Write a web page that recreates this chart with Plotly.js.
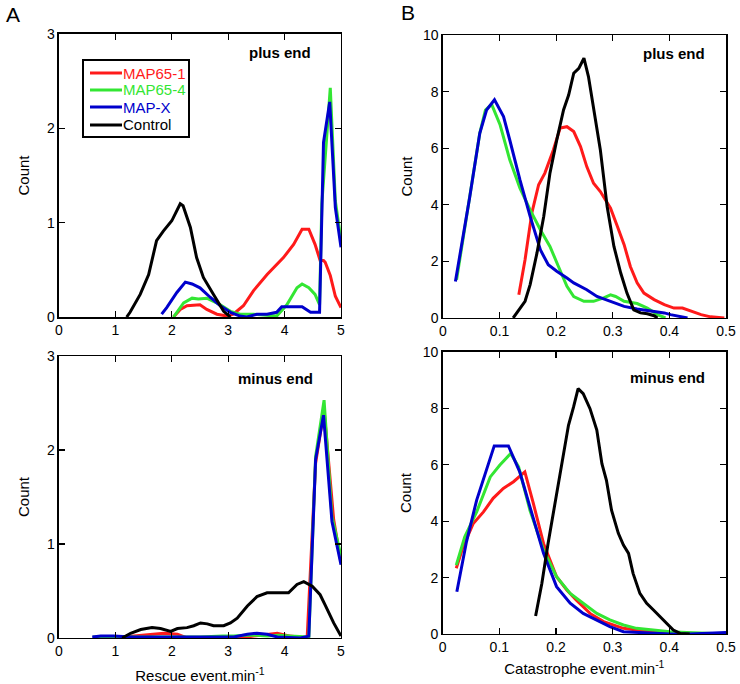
<!DOCTYPE html>
<html>
<head>
<meta charset="utf-8">
<script src="https://cdn.plot.ly/plotly-3.0.1.min.js"></script>
<style>html,body{margin:0;padding:0;background:#fff;}#chart{width:740px;height:684px;}</style>
</head>
<body>
<div id="chart"></div>
<script>
// ---- Data ----
// Panel A, plus end (rescue)
const aPlusRedX   = [2.03,2.15,2.27,2.5,2.62,2.8,2.98,3.09,3.27,3.45,3.69,3.98,4.16,4.31,4.43,4.54,4.63,4.69,4.72,4.81,4.9,5.0];
const aPlusRedY   = [0,0.08,0.12,0.13,0.08,0.03,0.01,0.03,0.12,0.28,0.45,0.63,0.77,0.93,0.93,0.77,0.6,0.6,0.58,0.44,0.22,0.1];
const aPlusGreenX = [2.03,2.21,2.36,2.47,2.62,2.86,3.04,3.21,3.45,3.75,3.86,4.04,4.22,4.31,4.43,4.54,4.62,4.66,4.81,4.9,5.0];
const aPlusGreenY = [0,0.15,0.2,0.19,0.2,0.13,0.06,0.03,0.03,0.01,0.01,0.13,0.31,0.35,0.31,0.24,0.13,1.2,2.43,1.23,0.81];
const aPlusBlueX  = [1.82,1.91,2.09,2.24,2.36,2.5,2.68,2.86,3.04,3.21,3.33,3.51,3.69,3.86,3.95,4.1,4.31,4.46,4.57,4.62,4.69,4.8,4.9,5.0];
const aPlusBlueY  = [0.03,0.1,0.26,0.37,0.35,0.31,0.21,0.12,0.05,0.01,0,0.03,0.03,0.05,0.11,0.11,0.11,0.05,0.05,0.05,1.85,2.28,1.16,0.74];
const aPlusBlackX = [1.2,1.26,1.44,1.59,1.73,1.85,2.0,2.15,2.2,2.33,2.44,2.56,2.74,2.92,3.04];
const aPlusBlackY = [0,0.05,0.24,0.45,0.81,0.91,1.02,1.2,1.18,0.95,0.63,0.42,0.24,0.06,0];

// Panel A, minus end (rescue)
const aMinusRedX   = [0.75,1.03,1.33,1.62,1.86,2.1,2.27,2.6,3.0,3.22,3.45,3.69,3.87,4.1,4.4,4.55,4.7,4.87,5.0];
const aMinusRedY   = [0,0,0.02,0.04,0.05,0.04,0,0,0,0,0.02,0.04,0.05,0.02,0,1.86,2.43,1.26,0.8];
const aMinusGreenX = [0.6,1.0,1.5,2.0,2.5,2.9,3.1,3.3,3.5,3.7,3.9,4.1,4.43,4.55,4.7,4.84,5.0];
const aMinusGreenY = [0.01,0.01,0.01,0.01,0.01,0.02,0.02,0.03,0.03,0.02,0.03,0.02,0.01,1.93,2.53,1.29,0.87];
const aMinusBlueX  = [0.59,0.74,0.97,1.3,1.92,2.5,3.1,3.34,3.51,3.69,3.87,4.28,4.43,4.55,4.69,4.84,5.0];
const aMinusBlueY  = [0.01,0.02,0.02,0.01,0.01,0.01,0.01,0.04,0.05,0.04,0.01,0,0.02,1.9,2.37,1.24,0.78];
const aMinusBlackX = [1.12,1.27,1.45,1.65,1.8,1.98,2.1,2.27,2.39,2.51,2.63,2.74,2.92,3.04,3.16,3.34,3.51,3.69,3.87,4.07,4.22,4.34,4.49,4.63,4.72,4.87,5.0];
const aMinusBlackY = [0,0.05,0.09,0.11,0.1,0.07,0.1,0.11,0.13,0.16,0.15,0.13,0.13,0.16,0.21,0.34,0.44,0.48,0.48,0.48,0.57,0.6,0.55,0.46,0.35,0.16,0.02];

// Panel B, plus end (catastrophe)
const bPlusRedX   = [0.134,0.145,0.157,0.169,0.18,0.195,0.207,0.219,0.231,0.243,0.254,0.266,0.278,0.296,0.308,0.32,0.331,0.343,0.355,0.373,0.391,0.408,0.423,0.438,0.456,0.473,0.497];
const bPlusRedY   = [0.82,2.06,3.71,4.71,5.12,5.94,6.71,6.76,6.59,6.06,5.35,4.76,4.47,3.88,3.24,2.59,1.82,1.24,0.88,0.65,0.47,0.35,0.35,0.24,0.12,0.04,0];
const bPlusGreenX = [0.024,0.036,0.047,0.065,0.075,0.086,0.101,0.118,0.136,0.154,0.172,0.189,0.204,0.219,0.231,0.249,0.266,0.284,0.296,0.305,0.32,0.343,0.361,0.379,0.393];
const bPlusGreenY = [1.35,2.88,4.24,6.53,7.35,7.55,6.82,5.59,4.59,3.82,3.12,2.53,1.82,1.12,0.76,0.59,0.59,0.71,0.82,0.76,0.59,0.51,0.35,0.12,0];
const bPlusBlueX  = [0.022,0.036,0.047,0.065,0.077,0.091,0.107,0.118,0.136,0.154,0.172,0.186,0.201,0.219,0.231,0.254,0.272,0.296,0.32,0.343,0.373,0.391,0.402,0.42,0.432];
const bPlusBlueY  = [1.29,2.88,4.24,6.53,7.35,7.71,7.12,6.29,4.88,3.59,2.41,1.88,1.65,1.41,1.24,1.0,0.76,0.59,0.41,0.32,0.24,0.18,0.12,0.04,0];
const bPlusBlackX = [0.124,0.133,0.145,0.154,0.166,0.178,0.189,0.201,0.213,0.222,0.231,0.24,0.249,0.257,0.266,0.278,0.29,0.302,0.314,0.325,0.337,0.349,0.361,0.373,0.379];
const bPlusBlackY = [0,0.24,0.59,1.18,2.29,3.59,5.12,6.29,7.35,7.88,8.65,8.82,9.18,8.53,7.35,5.94,3.94,2.53,1.59,0.88,0.29,0.18,0.15,0.08,0];

// Panel B, minus end (catastrophe)
const bMinusRedX   = [0.024,0.036,0.054,0.072,0.089,0.107,0.125,0.145,0.16,0.178,0.201,0.219,0.236,0.26,0.284,0.319,0.342,0.372,0.401,0.431,0.46,0.5];
const bMinusRedY   = [2.33,3.09,3.92,4.33,4.81,5.16,5.4,5.75,4.63,3.21,2.03,1.56,1.2,0.73,0.44,0.2,0.14,0.08,0.05,0.02,0,0];
const bMinusGreenX = [0.024,0.039,0.06,0.084,0.101,0.12,0.134,0.154,0.178,0.201,0.225,0.248,0.272,0.295,0.319,0.342,0.372,0.401,0.431,0.46,0.5];
const bMinusGreenY = [2.44,3.45,4.33,5.57,5.99,6.4,5.93,4.39,2.98,2.03,1.44,1.09,0.73,0.5,0.32,0.2,0.14,0.08,0.05,0.02,0];
const bMinusBlueX  = [0.025,0.042,0.06,0.075,0.091,0.116,0.136,0.154,0.178,0.201,0.225,0.248,0.272,0.295,0.319,0.342,0.372,0.401,0.436,0.46,0.5];
const bMinusBlueY  = [1.5,3.27,4.75,5.69,6.67,6.67,5.75,4.51,2.86,1.68,1.09,0.73,0.5,0.26,0.08,0.05,0.02,0,0,0.02,0.05];
const bMinusBlackX = [0.164,0.175,0.186,0.198,0.21,0.222,0.231,0.239,0.248,0.26,0.272,0.281,0.289,0.298,0.31,0.319,0.328,0.336,0.348,0.36,0.372,0.384,0.395,0.407,0.419,0.436];
const bMinusBlackY = [0.64,1.79,3.21,4.63,6.04,7.4,8.05,8.7,8.52,7.99,7.23,6.04,5.45,4.39,3.57,3.15,2.86,2.15,1.44,1.09,0.85,0.61,0.38,0.14,0.02,0];

const seriesNames = ["MAP65-1","MAP65-4","MAP-X","Control"];
const seriesColors = ["#ff1a1a","#33e633","#0000cc","#000000"];

// ---- Traces ----
const panels = [
  {xa:"x",  ya:"y",  data:[[aPlusRedX,aPlusRedY],[aPlusGreenX,aPlusGreenY],[aPlusBlueX,aPlusBlueY],[aPlusBlackX,aPlusBlackY]]},
  {xa:"x2", ya:"y2", data:[[bPlusRedX,bPlusRedY],[bPlusGreenX,bPlusGreenY],[bPlusBlueX,bPlusBlueY],[bPlusBlackX,bPlusBlackY]]},
  {xa:"x3", ya:"y3", data:[[aMinusRedX,aMinusRedY],[aMinusGreenX,aMinusGreenY],[aMinusBlueX,aMinusBlueY],[aMinusBlackX,aMinusBlackY]]},
  {xa:"x4", ya:"y4", data:[[bMinusRedX,bMinusRedY],[bMinusGreenX,bMinusGreenY],[bMinusBlueX,bMinusBlueY],[bMinusBlackX,bMinusBlackY]]}
];
const traces = [];
panels.forEach(p => {
  p.data.forEach((d, i) => {
    traces.push({
      x: d[0], y: d[1], xaxis: p.xa, yaxis: p.ya,
      type: "scatter", mode: "lines",
      name: seriesNames[i], legendgroup: seriesNames[i],
      showlegend: false,
      line: {color: seriesColors[i], width: 3},
      cliponaxis: false
    });
  });
});

const font = {family: "Liberation Sans, Arial, sans-serif", color: "#000"};
function f(size, extra) { return Object.assign({size: size}, font, extra || {}); }
function ax(domain, range, dtick, anchor, extra) {
  return Object.assign({
    domain: domain, range: range, dtick: dtick, tick0: 0, anchor: anchor,
    showgrid: false, zeroline: false,
    showline: true, linecolor: "#000", linewidth: 1.5, mirror: "ticks",
    ticks: "inside", ticklen: 6, tickwidth: 1.3, tickcolor: "#000",
    tickfont: f(14),
    fixedrange: true
  }, extra || {});
}

// ---- Hand-built legend box (panel A, plus end) ----
const W = 740, H = 684;
const px = v => v / W, py = v => 1 - v / H;
const legBox = {x0: 83, y0: 60, x1: 189, y1: 137};
const legRowY = [73, 90, 107, 125];
const shapes = [
  {type: "rect", xref: "paper", yref: "paper", x0: px(legBox.x0), x1: px(legBox.x1), y0: py(legBox.y1), y1: py(legBox.y0),
   line: {color: "#000", width: 2}, fillcolor: "#fff", layer: "above"}
];
const annotations = [];
seriesNames.forEach((n, i) => {
  shapes.push({type: "line", xref: "paper", yref: "paper", x0: px(90), x1: px(122), y0: py(legRowY[i]), y1: py(legRowY[i]),
    line: {color: seriesColors[i], width: 3}, layer: "above"});
  annotations.push({text: n, xref: "paper", yref: "paper", x: px(121), y: py(legRowY[i]), xanchor: "left", yanchor: "middle",
    showarrow: false, font: f(15, {color: i === 3 ? "#000" : seriesColors[i]})});
});

annotations.push(
  {text: "A", xref: "paper", yref: "paper", x: px(4), y: py(14), xanchor: "left", yanchor: "middle", showarrow: false, font: f(21)},
  {text: "B", xref: "paper", yref: "paper", x: px(399), y: py(13), xanchor: "left", yanchor: "middle", showarrow: false, font: f(21)},
  {text: "<b>plus end</b>",  xref: "x domain",  yref: "y domain",  x: 0.785, y: 0.933, xanchor: "center", yanchor: "middle", showarrow: false, font: f(15)},
  {text: "<b>plus end</b>",  xref: "x2 domain", yref: "y2 domain", x: 0.816, y: 0.936, xanchor: "center", yanchor: "middle", showarrow: false, font: f(15)},
  {text: "<b>minus end</b>", xref: "x3 domain", yref: "y3 domain", x: 0.766, y: 0.922, xanchor: "center", yanchor: "middle", showarrow: false, font: f(15)},
  {text: "<b>minus end</b>", xref: "x4 domain", yref: "y4 domain", x: 0.795, y: 0.908, xanchor: "center", yanchor: "middle", showarrow: false, font: f(15)}
);

const yTitleA = {text: "Count", font: f(15), standoff: 13};
const yTitleB = {text: "Count", font: f(15), standoff: 7};

const layout = {
  width: W, height: H,
  margin: {l: 0, r: 0, t: 0, b: 0},
  paper_bgcolor: "#fff", plot_bgcolor: "#fff",
  font: font,
  showlegend: false,
  xaxis:  ax([0.0797, 0.4608], [0, 5], 1, "y"),
  yaxis:  ax([0.5365, 0.9503], [0, 3], 1, "x", {title: yTitleA}),
  xaxis2: ax([0.5986, 0.9811], [0, 0.5], 0.1, "y2"),
  yaxis2: ax([0.5351, 0.9488], [0, 10], 2, "x2", {title: yTitleB}),
  xaxis3: ax([0.0797, 0.4608], [0, 5], 1, "y3", {title: {text: "Rescue event.min<sup>-1</sup>", font: f(15), standoff: 12}}),
  yaxis3: ax([0.0673, 0.4795], [0, 3], 1, "x3", {title: yTitleA}),
  xaxis4: ax([0.5982, 0.9811], [0, 0.5], 0.1, "y4", {title: {text: "Catastrophe event.min<sup>-1</sup>", font: f(15), standoff: 9}}),
  yaxis4: ax([0.0731, 0.4854], [0, 10], 2, "x4", {title: yTitleB}),
  shapes: shapes,
  annotations: annotations
};

Plotly.newPlot("chart", traces, layout, {displayModeBar: false, staticPlot: true});
</script>
</body>
</html>
